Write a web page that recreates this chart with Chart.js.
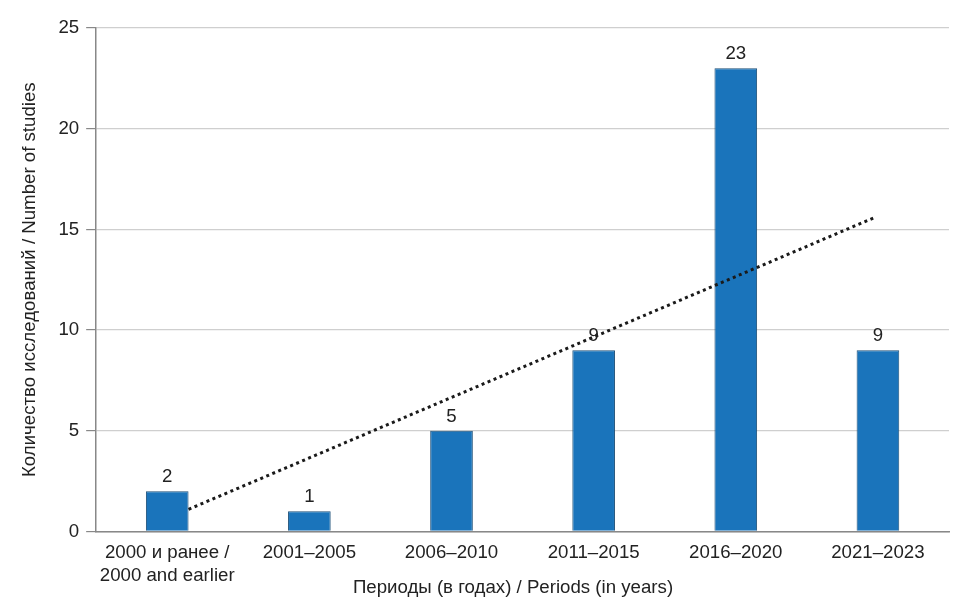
<!DOCTYPE html>
<html><head><meta charset="utf-8">
<script src="https://cdn.jsdelivr.net/npm/chart.js@4"></script>
<style>html,body{margin:0;padding:0;background:#fff}canvas{display:block}</style>
</head><body>
<canvas id="c" width="965" height="609"></canvas>
<script>
const categories = [["2000 и ранее /","2000 and earlier"],"2001–2005","2006–2010","2011–2015","2016–2020","2021–2023"];
const studies = [2, 1, 5, 9, 23, 9];
const trendX = [1.15, 5.98];
const trendY = [1.1, 15.6];
const yTicks = [0, 5, 10, 15, 20, 25];
const xTitle = 'Периоды (в годах) / Periods (in years)';
const yTitle = 'Количество исследований / Number of studies';
const FONT = "'Liberation Sans', Arial, sans-serif";
const FS = 18.67;

const labelPlugin = {
  id: 'barLabels',
  afterDatasetsDraw(chart) {
    const ctx = chart.ctx;
    const meta = chart.getDatasetMeta(1);
    ctx.save();
    ctx.font = FS + "px " + FONT;
    ctx.fillStyle = '#222';
    ctx.textAlign = 'center';
    ctx.textBaseline = 'alphabetic';
    meta.data.forEach((bar, i) => {
      ctx.fillText(String(studies[i]), bar.x, bar.y - 9);
    });
    ctx.textBaseline = 'middle';
    ctx.fillText(xTitle, 513, 588);
    ctx.restore();
  }
};

function nudge(scale) { scale.left += 3; scale.width -= 2; scale.right = scale.left + scale.width; }

new Chart(document.getElementById('c'), {
  data: {
    labels: categories,
    datasets: [
      { type: 'line', xAxisID: 'x2', data: trendX.map((x, i) => ({ x, y: trendY[i] })),
        borderColor: '#1a1a1a', borderWidth: 3, borderDash: [3, 3.5],
        pointRadius: 0, fill: false, order: 0 },
      { type: 'bar', data: studies, backgroundColor: '#1a74bb', borderColor: '#1d4f78', borderWidth: 1,
        grouped: false, barPercentage: 0.3, categoryPercentage: 1, order: 1 }
    ]
  },
  options: {
    responsive: false,
    animation: false,
    devicePixelRatio: 1,
    layout: { padding: { top: 28, right: 16, left: 10, bottom: 20 } },
    plugins: { legend: { display: false }, tooltip: { enabled: false } },
    scales: {
      x: {
        afterFit: undefined,
        grid: { display: false },
        border: { display: true, color: '#888', width: 1.5 },
        ticks: { color: '#222', font: { size: FS, family: FONT, lineHeight: 1.22 }, padding: 2, maxRotation: 0, autoSkip: false }
      },
      x2: { type: 'linear', display: false, min: 0.5, max: 6.5 },
      y: {
        min: 0, max: 25,
        afterBuildTicks(scale) { scale.ticks = yTicks.map(v => ({ value: v })); },
        grid: { color: '#cfcfcf', lineWidth: 1.2, tickColor: '#888', tickLength: 10 },
        border: { display: true, color: '#888', width: 1.5 },
        ticks: { color: '#222', font: { size: FS, family: FONT }, padding: 7 },
        title: { display: true, text: yTitle, color: '#222',
                 font: { size: FS, family: FONT }, padding: { top: 9, bottom: 10 } }
      }
    }
  },
  plugins: [labelPlugin]
});
</script>
</body></html>
